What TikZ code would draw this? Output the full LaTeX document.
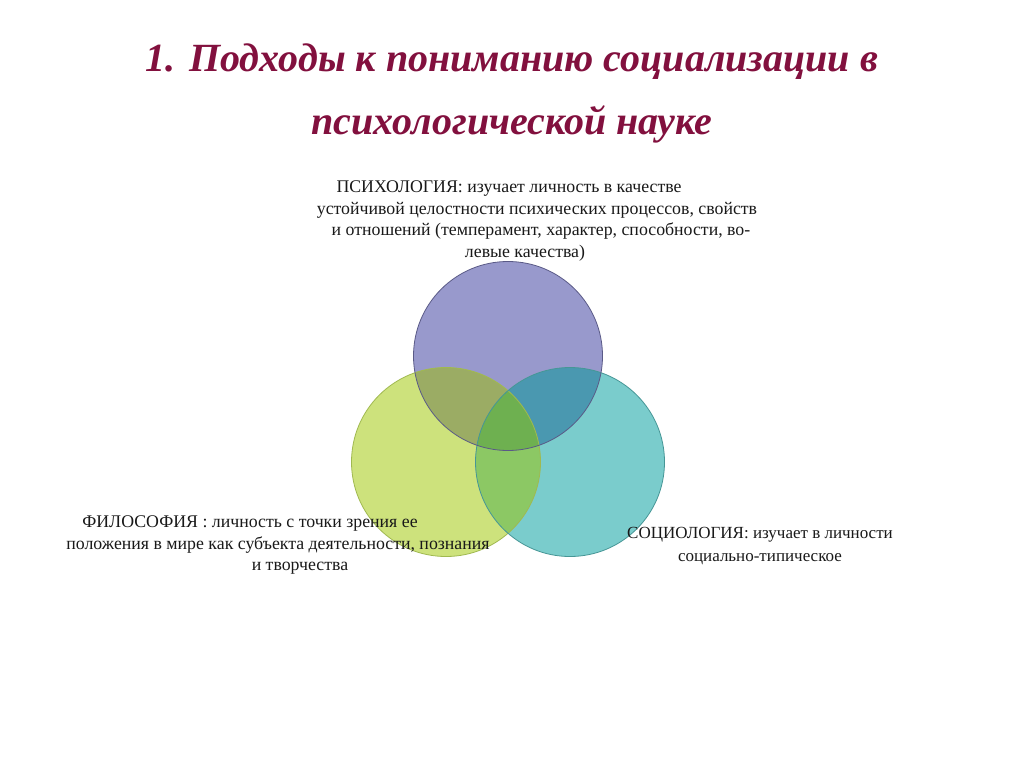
\documentclass[tikz,border=0pt]{standalone}
\usepackage{fontspec}
\setmainfont{Liberation Serif}
\usetikzlibrary{positioning}

\definecolor{titlered}{RGB}{130,16,62}
\definecolor{psyfill}{RGB}{152,153,204}
\definecolor{philfill}{RGB}{205,226,124}
\definecolor{socfill}{RGB}{122,204,204}
\definecolor{psyphil}{RGB}{155,172,100}
\definecolor{psysoc}{RGB}{74,152,176}
\definecolor{philsoc}{RGB}{140,200,100}
\definecolor{allthree}{RGB}{110,176,80}
\definecolor{psyline}{RGB}{90,90,135}
\definecolor{philline}{RGB}{160,185,80}
\definecolor{socline}{RGB}{70,150,150}

\tikzset{
  heading/.style={text=titlered, font=\fontsize{40}{46}\selectfont\bfseries\itshape},
  circ/.style={circle, minimum size=189pt, inner sep=0pt},
  caption/.style={align=center, text=black!90, font=\fontsize{17.8}{21.5}\selectfont},
}

\begin{document}
\begin{tikzpicture}[x=1pt,y=-1pt]
  \useasboundingbox[fill=white] (0,0) rectangle (1024,767);

  % Title
  \node[heading] (t1) at (512,62) {1. Подходы к пониманию социализации в};
  \node[heading] (t2) at (512,124) {психологической науке};

  % Circles
  \node[circ, fill=psyfill] (psy) at (508,356) {};
  \node[circ, fill=philfill] (phil) at (446,462) {};
  \node[circ, fill=socfill] (soc) at (570,462) {};

  % Overlaps
  \begin{scope}
    \clip (psy.center) circle (94.5pt);
    \fill[psyphil] (phil.center) circle (94.5pt);
    \fill[psysoc] (soc.center) circle (94.5pt);
  \end{scope}
  \begin{scope}
    \clip (phil.center) circle (94.5pt);
    \fill[philsoc] (soc.center) circle (94.5pt);
    \clip (soc.center) circle (94.5pt);
    \fill[allthree] (psy.center) circle (94.5pt);
  \end{scope}

  % Outlines
  \draw[philline, line width=0.8pt] (phil.center) circle (94.5pt);
  \draw[socline, line width=0.8pt] (soc.center) circle (94.5pt);
  \draw[psyline, line width=0.8pt] (psy.center) circle (94.5pt);

  % Captions
  \node[caption] (psytext) at (537,221)
    {ПСИХОЛОГИЯ: изучает личность в качестве\hspace*{56pt}\\
     устойчивой целостности психических процессов, свойств\\
     \hspace*{8pt}и отношений (темперамент, характер, способности, во-\\
     левые качества)\hspace*{24pt}};
  \node[caption] (philtext) at (278,545)
    {ФИЛОСОФИЯ : личность с точки зрения ее\hspace*{56pt}\\
     положения в мире как субъекта деятельности, познания\\
     \hspace*{44pt}и творчества};
  \node[caption, font=\fontsize{17}{21.5}\selectfont] (soctext) at (760,546)
    {СОЦИОЛОГИЯ: изучает в личности\\[1.5pt]
     социально-типическое};
\end{tikzpicture}
\end{document}
